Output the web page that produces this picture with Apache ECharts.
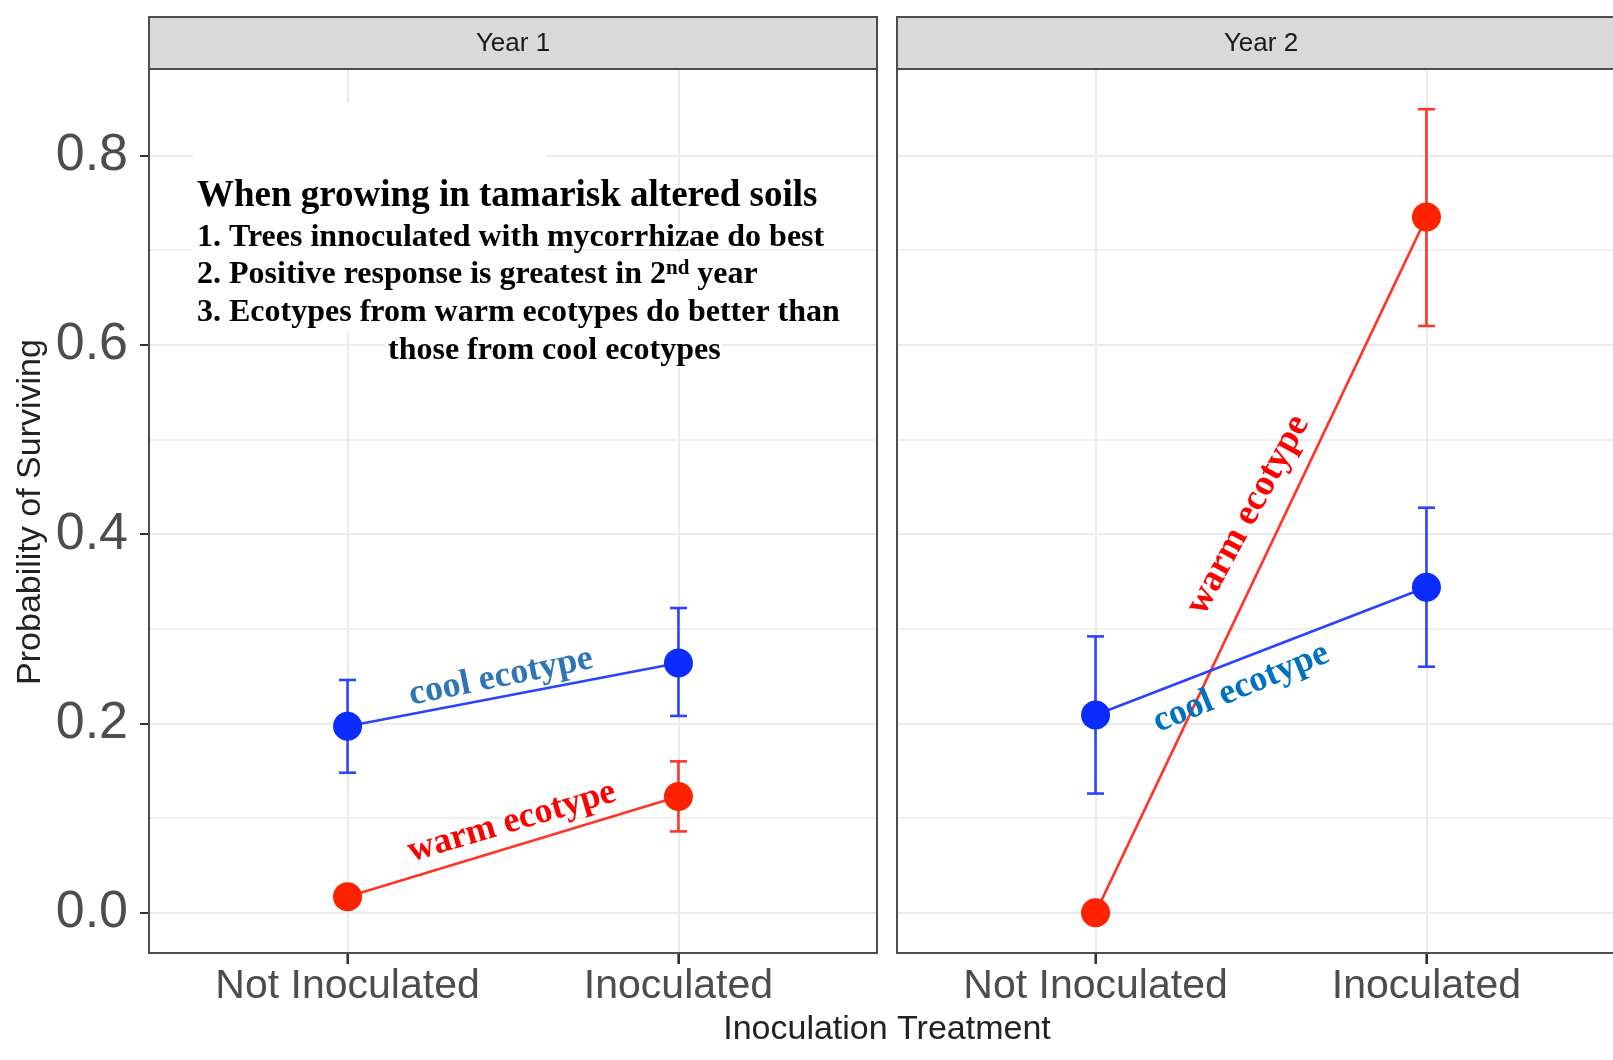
<!DOCTYPE html>
<html>
<head>
<meta charset="utf-8">
<title>Probability of Surviving by Inoculation Treatment</title>
<script src="https://cdn.jsdelivr.net/npm/echarts@6/dist/echarts.min.js"></script>
<style>
  html, body { margin: 0; padding: 0; background: #ffffff; }
  #chart { width: 1613px; height: 1060px; }
</style>
</head>
<body>
<div id="chart"></div>
<script>
// ---- data -------------------------------------------------------------
const panels = ['Year 1', 'Year 2'];
const treatments = ['Not Inoculated', 'Inoculated'];
const treatmentPos = [1, 2];

// estimated survival probability with error bars, one row per panel (year)
const coolMean = [[0.197, 0.264], [0.209, 0.344]];
const coolLow  = [[0.148, 0.208], [0.126, 0.260]];
const coolHigh = [[0.246, 0.322], [0.292, 0.428]];

const warmMean = [[0.017, 0.123], [0.000, 0.735]];
const warmLow  = [[null, 0.086], [null, 0.620]];
const warmHigh = [[null, 0.160], [null, 0.849]];

const yMajor = [0, 0.2, 0.4, 0.6, 0.8];
const yMinor = [0.1, 0.3, 0.5, 0.7];

const ecotypeLabels = ['cool ecotype', 'warm ecotype'];
const noteTitle = 'When growing in tamarisk altered soils';
const noteLines = [
  '1. Trees innoculated with mycorrhizae do best',
  ['2. Positive response is greatest in 2', 'nd', ' year'],
  '3. Ecotypes from warm ecotypes do better than',
  'those from cool ecotypes'
];

// ---- scales ------------------------------------------------------------
// continuous y range padded by 5% on each side, discrete x padded by 0.6
const allY = [].concat(...coolLow, ...coolHigh, ...coolMean, ...warmLow, ...warmHigh, ...warmMean)
  .filter(v => v !== null);
const yLo = Math.min(...allY), yHi = Math.max(...allY);
const yPad = 0.05 * (yHi - yLo);
const yMin = yLo - yPad, yMax = yHi + yPad;
const xMin = 0.4, xMax = 2.6;

// ---- layout & style ----------------------------------------------------
const PANEL_LEFT = [149, 897];
const PANEL_W = 728;
const PANEL_TOP = 69;
const PANEL_H = 884;
const STRIP_TOP = 17;

const SANS = "'Liberation Sans', Arial, Helvetica, sans-serif";
const SERIF = "'Liberation Serif', 'Times New Roman', serif";
const BORDER = '#4d4d4d';
const GRID = '#ebebeb';
const TICK = '#333333';

const COOL = { point: '#0a2cff', line: '#2b43ff' };
const WARM = { point: '#ff2200', line: '#ff3526' };

const chart = echarts.init(document.getElementById('chart'), null, { renderer: 'canvas' });

const grids = [], xAxes = [], yAxes = [];
panels.forEach((p, i) => {
  grids.push({
    left: PANEL_LEFT[i], top: PANEL_TOP, width: PANEL_W, height: PANEL_H,
    show: true, backgroundColor: '#ffffff', borderWidth: 0,
    containLabel: false, outerBoundsMode: 'none'
  });
  xAxes.push({
    gridIndex: i, type: 'value', min: xMin, max: xMax, position: 'bottom',
    axisLine: { show: true, onZero: false, lineStyle: { color: BORDER, width: 2 } },
    axisTick: { show: true, inside: false, customValues: treatmentPos, length: 11, lineStyle: { color: TICK, width: 2 } },
    axisLabel: {
      show: true, customValues: treatmentPos, margin: 13,
      formatter: v => treatments[Math.round(v) - 1],
      fontFamily: SANS, fontSize: 41, color: '#4d4d4d'
    },
    splitLine: { show: true, lineStyle: { color: GRID, width: 2 } }
  });
});
// major y axes (one per panel)
panels.forEach((p, i) => {
  yAxes.push({
    gridIndex: i, type: 'value', min: yMin, max: yMax, position: 'left',
    axisLine: { show: true, onZero: false, lineStyle: { color: BORDER, width: 2 } },
    axisTick: { show: i === 0, inside: false, customValues: yMajor, length: 9, lineStyle: { color: TICK, width: 2 } },
    axisLabel: {
      show: i === 0, customValues: yMajor, margin: 21,
      formatter: v => v.toFixed(1),
      fontFamily: SANS, fontSize: 52, color: '#4d4d4d'
    },
    splitLine: { show: true, lineStyle: { color: GRID, width: 2 } }
  });
});
// minor y gridlines (one per panel)
panels.forEach((p, i) => {
  yAxes.push({
    gridIndex: i, type: 'value', min: yMin, max: yMax, position: 'left',
    axisLine: { show: false, onZero: false },
    axisTick: { show: false, customValues: yMinor },
    axisLabel: { show: false, customValues: yMinor },
    splitLine: { show: true, lineStyle: { color: GRID, width: 1.6 } }
  });
});

function errorBarSeries(i, low, high, color) {
  const data = [];
  treatmentPos.forEach((x, j) => {
    if (low[i][j] !== null && high[i][j] !== null) data.push([x, low[i][j], high[i][j]]);
  });
  return {
    type: 'custom', xAxisIndex: i, yAxisIndex: i, z: 2, silent: true,
    encode: { x: 0, y: [1, 2] },
    data,
    renderItem: (params, api) => {
      const x = api.value(0);
      const top = api.coord([x, api.value(2)]);
      const bot = api.coord([x, api.value(1)]);
      const hw = 8.5;
      const st = { stroke: color, lineWidth: 2.6 };
      return {
        type: 'group',
        children: [
          { type: 'line', shape: { x1: top[0], y1: top[1], x2: bot[0], y2: bot[1] }, style: st },
          { type: 'line', shape: { x1: top[0] - hw, y1: top[1], x2: top[0] + hw, y2: top[1] }, style: st },
          { type: 'line', shape: { x1: bot[0] - hw, y1: bot[1], x2: bot[0] + hw, y2: bot[1] }, style: st }
        ]
      };
    }
  };
}

// tick marks under each panel at the treatment positions
function treatmentTickSeries(i) {
  return {
    type: 'custom', xAxisIndex: i, yAxisIndex: i, z: 12, silent: true, clip: false,
    encode: { x: 0, y: 1 },
    data: treatmentPos.map(x => [x, yMin]),
    renderItem: (params, api) => {
      const p = api.coord([api.value(0), api.value(1)]);
      return {
        type: 'line',
        shape: { x1: p[0], y1: p[1] + 1, x2: p[0], y2: p[1] + 11 },
        style: { stroke: TICK, lineWidth: 2.2 }
      };
    }
  };
}

function meanSeries(i, mean, col, name) {
  return {
    type: 'line', name, xAxisIndex: i, yAxisIndex: i, z: 3,
    data: treatmentPos.map((x, j) => [x, mean[i][j]]),
    symbol: 'circle', symbolSize: 29, showSymbol: true,
    lineStyle: { color: col.line, width: 2.6 },
    itemStyle: { color: col.point, borderWidth: 0 },
    emphasis: { disabled: true },
    silent: true
  };
}

const series = [];
panels.forEach((p, i) => {
  series.push(errorBarSeries(i, warmLow, warmHigh, WARM.line));
  series.push(errorBarSeries(i, coolLow, coolHigh, COOL.line));
  series.push(meanSeries(i, warmMean, WARM, ecotypeLabels[1]));
  series.push(meanSeries(i, coolMean, COOL, ecotypeLabels[0]));
  series.push(treatmentTickSeries(i));
});

// ---- decorations: facet strips, panel borders, titles, notes ----------
const graphics = [];
panels.forEach((p, i) => {
  graphics.push({
    type: 'rect', z: 10,
    shape: { x: PANEL_LEFT[i], y: STRIP_TOP, width: PANEL_W, height: PANEL_TOP - STRIP_TOP },
    style: { fill: '#d9d9d9', stroke: BORDER, lineWidth: 2 }
  });
  graphics.push({
    type: 'text', z: 11,
    x: PANEL_LEFT[i] + PANEL_W / 2, y: 44,
    style: { text: p, fontFamily: SANS, fontSize: 26, fill: '#1a1a1a', align: 'center', verticalAlign: 'middle' }
  });
  graphics.push({
    type: 'rect', z: 10,
    shape: { x: PANEL_LEFT[i], y: PANEL_TOP, width: PANEL_W, height: PANEL_H },
    style: { fill: null, stroke: BORDER, lineWidth: 2 }
  });
});

// white backing behind the note text
[
  { x: 193, y: 103, width: 353, height: 194 },
  { x: 193, y: 252, width: 647, height: 80 },
  { x: 385, y: 332, width: 337, height: 36 }
].forEach(r => graphics.push({ type: 'rect', z: 1, shape: r, style: { fill: '#ffffff' } }));

graphics.push({
  type: 'text', z: 6, x: 197, y: 196,
  style: { text: noteTitle, fontFamily: SERIF, fontWeight: 'bold', fontSize: 37, fill: '#000000', align: 'left', verticalAlign: 'middle' }
});
const noteY = [237.5, 275, 313, 351];
const noteX = [197, 197, 197, 388];
noteLines.forEach((ln, k) => {
  if (Array.isArray(ln)) {
    graphics.push({
      type: 'text', z: 6, x: noteX[k], y: noteY[k],
      style: {
        text: '{a|' + ln[0] + '}{s|' + ln[1] + '}{a|' + ln[2] + '}',
        align: 'left', verticalAlign: 'middle',
        rich: {
          a: { fontFamily: SERIF, fontWeight: 'bold', fontSize: 32, fill: '#000000', lineHeight: 34 },
          s: { fontFamily: SERIF, fontWeight: 'bold', fontSize: 21, fill: '#000000', verticalAlign: 'top', lineHeight: 20 }
        }
      }
    });
  } else {
    graphics.push({
      type: 'text', z: 6, x: noteX[k], y: noteY[k],
      style: { text: ln, fontFamily: SERIF, fontWeight: 'bold', fontSize: 32, fill: '#000000', align: 'left', verticalAlign: 'middle' }
    });
  }
});

// ecotype labels along the lines
[
  { text: ecotypeLabels[0], x: 501, y: 677, deg: 11.5, fill: '#2e75b6', size: 36 },
  { text: ecotypeLabels[1], x: 512, y: 822, deg: 16.5, fill: '#ff0000', size: 36 },
  { text: ecotypeLabels[1], x: 1248, y: 515, deg: 61.5, fill: '#ff0000', size: 37 },
  { text: ecotypeLabels[0], x: 1241, y: 688, deg: 22.5, fill: '#0070c0', size: 36 }
].forEach(l => graphics.push({
  type: 'text', z: 6, x: l.x, y: l.y, rotation: l.deg * Math.PI / 180,
  style: { text: l.text, fontFamily: SERIF, fontWeight: 'bold', fontSize: l.size, fill: l.fill, align: 'center', verticalAlign: 'middle' }
}));

// axis titles
graphics.push({
  type: 'text', z: 6, x: 887, y: 1030,
  style: { text: 'Inoculation Treatment', fontFamily: SANS, fontSize: 34, fill: '#222222', align: 'center', verticalAlign: 'middle' }
});
graphics.push({
  type: 'text', z: 6, x: 31, y: 512, rotation: Math.PI / 2,
  style: { text: 'Probability of Surviving', fontFamily: SANS, fontSize: 34, fill: '#222222', align: 'center', verticalAlign: 'middle' }
});

chart.setOption({
  animation: false,
  backgroundColor: '#ffffff',
  grid: grids,
  xAxis: xAxes,
  yAxis: yAxes,
  series,
  graphic: { elements: graphics }
});
</script>
</body>
</html>
